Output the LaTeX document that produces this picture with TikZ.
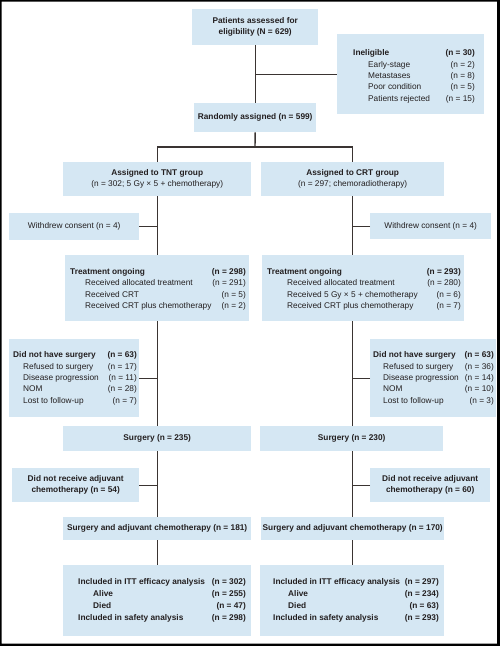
\documentclass[tikz,border=0pt]{standalone}
\usepackage{fontspec}
\setmainfont{Liberation Sans}
\definecolor{boxblue}{RGB}{213,231,243}
\definecolor{linec}{RGB}{58,52,50}
\definecolor{txtc}{RGB}{35,31,32}
\newcommand\fs{\fontsize{8.3}{11}\selectfont}
\tikzset{
  box/.style={fill=boxblue, inner sep=0pt, anchor=north west, align=center, text=txtc, font=\fs\bfseries},
  ln/.style={draw=linec, line width=1.4pt},
  tr/.style={inner sep=0pt, text=txtc, font=\fs},
  tbd/.style={inner sep=0pt, text=txtc, font=\fs\bfseries},
}
% box: name, x1, y1, x2, y2, text
\newcommand\mkbox[6]{\node[box, minimum width={#4-#2}, minimum height={#5-#3}] (#1) at (#2,#3) {#6};}
% row: style, name, xleft, xright, ybase, left text, right text
\newcommand\rw[7]{\node[#1, anchor=base west] (#2l) at (#3,#5) {#6};
  \node[#1, anchor=base east] (#2r) at (#4,#5) {#7};}
\begin{document}
\begin{tikzpicture}[x=1pt,y=-1pt]
\useasboundingbox (0,0) rectangle (500,646);
\fill[black, even odd rule] (0,0) rectangle (500,646) (1.5,1.5) rectangle (497,643.5);

% boxes
\mkbox{top}{192}{9}{318}{45}{Patients assessed for\\eligibility (N = 629)}
\mkbox{inel}{337}{34}{484}{114}{}
\mkbox{rand}{194}{103}{316}{132}{Randomly assigned (n = 599)}
\mkbox{tnt}{63}{162}{251}{196}{Assigned to TNT group\\\mdseries(n = 302; 5 Gy × 5 + chemotherapy)}
\mkbox{crt}{261}{162}{444}{196}{Assigned to CRT group\\\mdseries(n = 297; chemoradiotherapy)}
\mkbox{wdL}{9}{213}{139}{240}{\mdseries Withdrew consent (n = 4)}
\mkbox{wdR}{370}{213}{491}{239}{\mdseries Withdrew consent (n = 4)}
\mkbox{trtL}{65}{255}{249}{321}{}
\mkbox{trtR}{262}{255}{464}{321}{}
\mkbox{dnsL}{9}{339}{139}{417}{}
\mkbox{dnsR}{370}{339}{496}{417}{}
\mkbox{surgL}{63}{426}{251}{451}{Surgery (n = 235)}
\mkbox{surgR}{260}{426}{443}{451}{Surgery (n = 230)}
\mkbox{dnrL}{12}{468}{139}{502}{Did not receive adjuvant\\chemotherapy (n = 54)}
\mkbox{dnrR}{370}{468}{490}{502}{Did not receive adjuvant\\chemotherapy (n = 60)}
\mkbox{saL}{63}{517}{251}{540}{Surgery and adjuvant chemotherapy (n = 181)}
\mkbox{saR}{261}{517}{444}{540}{Surgery and adjuvant chemotherapy (n = 170)}
\mkbox{finL}{63}{565}{251}{636}{}
\mkbox{finR}{260}{565}{444}{636}{}

% ineligible
\rw{tbd}{ia}{353}{475}{55.8}{Ineligible}{(n = 30)}
\rw{tr}{ib}{368}{475}{67.1}{Early-stage}{(n = 2)}
\rw{tr}{ic}{368}{475}{78.4}{Metastases}{(n = 8)}
\rw{tr}{id}{368}{475}{89.7}{Poor condition}{(n = 5)}
\rw{tr}{ie}{368}{475}{101}{Patients rejected}{(n = 15)}

% treatment ongoing
\rw{tbd}{ta}{70}{246}{274}{Treatment ongoing}{(n = 298)}
\rw{tr}{tb}{85}{246}{285.6}{Received allocated treatment}{(n = 291)}
\rw{tr}{tc}{85}{246}{297.2}{Received CRT}{(n = 5)}
\rw{tr}{td}{85}{246}{308.8}{Received CRT plus chemotherapy}{(n = 2)}
\rw{tbd}{ua}{267}{461}{274}{Treatment ongoing}{(n = 293)}
\rw{tr}{ub}{287}{461}{285.6}{Received allocated treatment}{(n = 280)}
\rw{tr}{uc}{287}{461}{297.2}{Received 5 Gy × 5 + chemotherapy}{(n = 6)}
\rw{tr}{ud}{287}{461}{308.8}{Received CRT plus chemotherapy}{(n = 7)}

% did not have surgery
\rw{tbd}{sa}{13}{137}{357.8}{Did not have surgery}{(n = 63)}
\rw{tr}{sb}{23}{137}{369.1}{Refused to surgery}{(n = 17)}
\rw{tr}{sc}{23}{137}{380.4}{Disease progression}{(n = 11)}
\rw{tr}{sd}{23}{137}{391.7}{NOM}{(n = 28)}
\rw{tr}{se}{23}{137}{403}{Lost to follow-up}{(n = 7)}
\rw{tbd}{va}{373}{494}{357.8}{Did not have surgery}{(n = 63)}
\rw{tr}{vb}{383}{494}{369.1}{Refused to surgery}{(n = 36)}
\rw{tr}{vc}{383}{494}{380.4}{Disease progression}{(n = 14)}
\rw{tr}{vd}{383}{494}{391.7}{NOM}{(n = 10)}
\rw{tr}{ve}{383}{494}{403}{Lost to follow-up}{(n = 3)}

% final
\rw{tbd}{fa}{78}{246}{584.8}{Included in ITT efficacy analysis}{(n = 302)}
\rw{tbd}{fb}{93}{246}{596.8}{Alive}{(n = 255)}
\rw{tbd}{fc}{93}{246}{608.8}{Died}{(n = 47)}
\rw{tbd}{fd}{78}{246}{620.8}{Included in safety analysis}{(n = 298)}
\rw{tbd}{ga}{273}{439}{584.8}{Included in ITT efficacy analysis}{(n = 297)}
\rw{tbd}{gb}{288}{439}{596.8}{Alive}{(n = 234)}
\rw{tbd}{gc}{288}{439}{608.8}{Died}{(n = 63)}
\rw{tbd}{gd}{273}{439}{620.8}{Included in safety analysis}{(n = 293)}

% connectors
\coordinate (j1) at (255,147);
\draw[ln] (top.south) -- (rand.north);
\draw[ln] (top.south |- inel.west) -- (inel.west);
\draw[ln] (rand.south) -- (j1);
\draw[ln] (tnt.north) -- (tnt.north |- j1) -- (crt.north |- j1) -- (crt.north);
% left
\draw[ln] (tnt.south) -- (trtL.north);
\draw[ln] (trtL.south) -- (surgL.north);
\draw[ln] (surgL.south) -- (saL.north);
\draw[ln] (saL.south) -- (finL.north);
\draw[ln] (wdL.east) -- (wdL.east -| tnt.south);
\draw[ln] (dnsL.east) -- (dnsL.east -| trtL.south);
\draw[ln] (dnrL.east) -- (dnrL.east -| surgL.south);
% right (one straight line at the x of the CRT box centre)
\draw[ln] (crt.south) -- (crt.south |- trtR.north);
\draw[ln] (crt.south |- trtR.south) -- (crt.south |- surgR.north);
\draw[ln] (crt.south |- surgR.south) -- (crt.south |- saR.north);
\draw[ln] (crt.south |- saR.south) -- (crt.south |- finR.north);
\draw[ln] (wdR.west) -- (wdR.west -| crt.south);
\draw[ln] (dnsR.west) -- (dnsR.west -| crt.south);
\draw[ln] (dnrR.west) -- (dnrR.west -| crt.south);
\end{tikzpicture}
\end{document}
